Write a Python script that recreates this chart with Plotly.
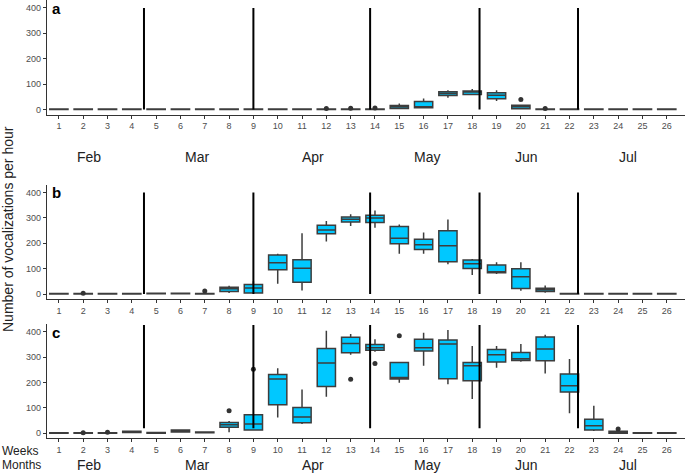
import plotly.graph_objects as go

WEEKS = list(range(1, 27))
WEEK_LABELS = [str(w) for w in WEEKS]
Y_TICKS = [0, 100, 200, 300, 400]
MONTHS = ["Feb", "Mar", "Apr", "May", "Jun", "Jul"]
MONTH_POS = [2.23, 6.67, 11.44, 16.13, 20.24, 24.4]
MONTH_BREAKS = [4.5, 9.0, 13.8, 18.3, 22.35]

# Panel a
A_Q1 = [0, 0, 0, 0, 0, 0, 0, 0, 0, 0, 0, 0, 0, 0, 4, 6.5, 55, 59, 42, 2.6, 0, 0, 0, 0, 0, 0]
A_MED = [1, 1, 1, 1, 1, 1, 1, 1, 1, 1, 1, 1, 1, 1, 10.5, 9, 63, 69.5, 56.4, 10.5, 1, 1, 1, 1, 1, 1]
A_Q3 = [2, 2, 2, 2, 2, 2, 2, 2, 2, 2, 2, 2, 2, 2, 16, 31.5, 69.5, 73.4, 65.6, 17, 2, 2, 2, 2, 2, 2]
A_LO = [0, 0, 0, 0, 0, 0, 0, 0, 0, 0, 0, 0, 0, 0, 2, 5, 46, 56, 34, 2, 0, 0, 0, 0, 0, 0]
A_HI = [2, 2, 2, 2, 2, 2, 2, 2, 2, 2, 2, 2, 2, 2, 23.6, 43, 76, 81, 76, 17, 2, 2, 2, 2, 2, 2]
A_OUT_X = [12, 13, 14, 20, 21]
A_OUT_Y = [4, 5, 6, 39, 4]
A_SPAN = [0, 400]

# Panel b
B_Q1 = [0, 0, 0, 0, 1, 1, 0, 10, 4, 95, 46, 237, 284, 282, 198, 175, 127, 100, 83.6, 22, 10, 0, 0, 0, 0, 0]
B_MED = [1, 1, 1, 1, 2, 2, 1, 20.6, 24, 123.5, 101.6, 252, 294.5, 299.7, 220, 194, 190, 119.6, 86, 68, 17, 1, 1, 1, 1, 1]
B_Q3 = [2, 2, 2, 2, 3, 3, 2, 27, 37, 154, 135, 271, 303.5, 310, 266, 216, 249.5, 134, 114.5, 99, 23, 2, 2, 2, 2, 2]
B_LO = [0, 0, 0, 0, 1, 1, 0, 4, 1, 40, 14, 207, 267.5, 261, 158, 158, 117, 74.6, 78.5, 13, 5, 0, 0, 0, 0, 0]
B_HI = [2, 2, 2, 2, 3, 3, 2, 32, 50, 158, 239, 287, 314, 329, 274, 242, 293, 137.6, 125, 125, 33, 2, 2, 2, 2, 2]
B_OUT_X = [2, 7]
B_OUT_Y = [3, 12]
B_SPAN = [0, 400]

# Panel c
C_Q1 = [0, 0, 0, 3, 0, 5, 2, 23.6, 13, 113, 42, 184, 317, 327, 214, 324, 215, 207, 280.7, 287, 286, 162.6, 13, 0, 0, 0]
C_MED = [1, 1, 1, 5, 1, 9, 3, 34, 36.7, 214, 64, 277, 354, 337, 220, 337, 351.5, 266, 309.5, 294, 332, 187.5, 30, 3, 1, 1]
C_Q3 = [2, 2, 2, 8, 3, 13, 5, 43, 73.4, 232, 102, 334, 378, 350, 279, 370, 367, 279, 330.5, 318.7, 379, 233.4, 55, 8, 2, 2]
C_LO = [0, 0, 0, 3, 0, 5, 2, 4, 10, 62, 37, 144, 309.5, 321, 199, 266, 193, 135, 258, 282, 236, 78.7, 9, 0, 0, 0]
C_HI = [2, 2, 2, 8, 3, 14, 5, 48.5, 73.4, 256, 173, 404, 391, 370, 279, 396, 406.5, 343.6, 343.6, 351.5, 388, 292.5, 109, 8, 2, 2]
C_OUT_X = [2, 3, 8, 9, 13, 14, 15, 24]
C_OUT_Y = [2, 4, 89, 252, 212.5, 275, 384, 17]
C_SPAN = [20, 426]

FILL = "#00C8FF"
EDGE = "#3d3d3d"
AXC = "#333333"
TXT = "#4d4d4d"
FONT = "Liberation Sans, Arial, sans-serif"

panels = [
    ("a", "", (A_Q1, A_MED, A_Q3, A_LO, A_HI), (A_OUT_X, A_OUT_Y), A_SPAN, [0.7577, 0.9994]),
    ("b", "2", (B_Q1, B_MED, B_Q3, B_LO, B_HI), (B_OUT_X, B_OUT_Y), B_SPAN, [0.3677, 0.6093]),
    ("c", "3", (C_Q1, C_MED, C_Q3, C_LO, C_HI), (C_OUT_X, C_OUT_Y), C_SPAN, [0.0731, 0.3148]),
]

fig = go.Figure()
layout = dict(
    width=685, height=473, margin=dict(l=0, r=0, t=0, b=0),
    paper_bgcolor="white", plot_bgcolor="white", showlegend=False,
    font=dict(family=FONT, color=TXT),
)
shapes = []
annotations = []

for letter, sfx, stats, outs, span, dom in panels:
    q1, med, q3, lo, hi = stats
    xa = "x" + sfx
    ya = "y" + sfx
    fig.add_trace(go.Box(
        x=WEEKS, q1=q1, median=med, q3=q3, lowerfence=lo, upperfence=hi,
        xaxis=xa, yaxis=ya, fillcolor=FILL, line=dict(color=EDGE, width=1.5),
        whiskerwidth=0, width=0.75, boxpoints=False, hoverinfo="skip",
    ))
    fig.add_trace(go.Scatter(
        x=outs[0], y=outs[1], mode="markers", xaxis=xa, yaxis=ya,
        marker=dict(color="#333333", size=5), hoverinfo="skip",
    ))
    layout["xaxis" + sfx] = dict(
        domain=[0.0682, 1.0], range=[0.5, 26.75], anchor=ya,
        tickmode="array", tickvals=WEEKS, ticktext=WEEK_LABELS,
        ticks="outside", ticklen=3, tickcolor=AXC, tickfont=dict(size=9, color=TXT),
        showline=True, linecolor=AXC, linewidth=1, showgrid=False, zeroline=False,
    )
    layout["yaxis" + sfx] = dict(
        domain=dom, range=[-20, 430], anchor=xa,
        tickmode="array", tickvals=Y_TICKS,
        ticks="outside", ticklen=3, tickcolor=AXC, tickfont=dict(size=9, color=TXT),
        showline=True, linecolor=AXC, linewidth=1, showgrid=False, zeroline=False,
    )
    for b in MONTH_BREAKS:
        shapes.append(dict(type="line", xref=xa, yref=ya, x0=b, x1=b,
                           y0=span[0], y1=span[1], line=dict(color="black", width=2)))
    annotations.append(dict(
        text="<b>%s</b>" % letter, xref="paper", yref="paper",
        x=50 / 685, y=dom[1] - 8 / 473, xanchor="left", yanchor="middle",
        showarrow=False, font=dict(size=15, color="black", family=FONT),
    ))

for ypix in (157, 465):
    for m, p in zip(MONTHS, MONTH_POS):
        annotations.append(dict(
            text=m, xref="x", yref="paper", x=p, y=1 - ypix / 473,
            xanchor="center", yanchor="middle", showarrow=False,
            font=dict(size=14, color="#222222", family=FONT),
        ))

annotations.append(dict(text="Weeks", xref="paper", yref="paper", x=0, y=1 - 451 / 473,
                        xanchor="left", yanchor="middle", showarrow=False,
                        font=dict(size=12, color="#222222", family=FONT)))
annotations.append(dict(text="Months", xref="paper", yref="paper", x=0, y=1 - 465 / 473,
                        xanchor="left", yanchor="middle", showarrow=False,
                        font=dict(size=12, color="#222222", family=FONT)))
annotations.append(dict(text="Number of vocalizations per hour", xref="paper", yref="paper",
                        x=8 / 685, y=1 - 229 / 473, xanchor="center", yanchor="middle",
                        textangle=-90, showarrow=False,
                        font=dict(size=14, color="#222222", family=FONT)))

layout["shapes"] = shapes
layout["annotations"] = annotations
fig.update_layout(**layout)
fig.write_html("out.html", config={"displayModeBar": False, "staticPlot": True})

# remove the default page margin so the figure sits at the window's top-left corner
with open("out.html", "r", encoding="utf-8") as f:
    html = f.read()
html = html.replace("<head>", "<head><style>html,body{margin:0;padding:0;overflow:hidden;}</style>", 1)
with open("out.html", "w", encoding="utf-8") as f:
    f.write(html)
